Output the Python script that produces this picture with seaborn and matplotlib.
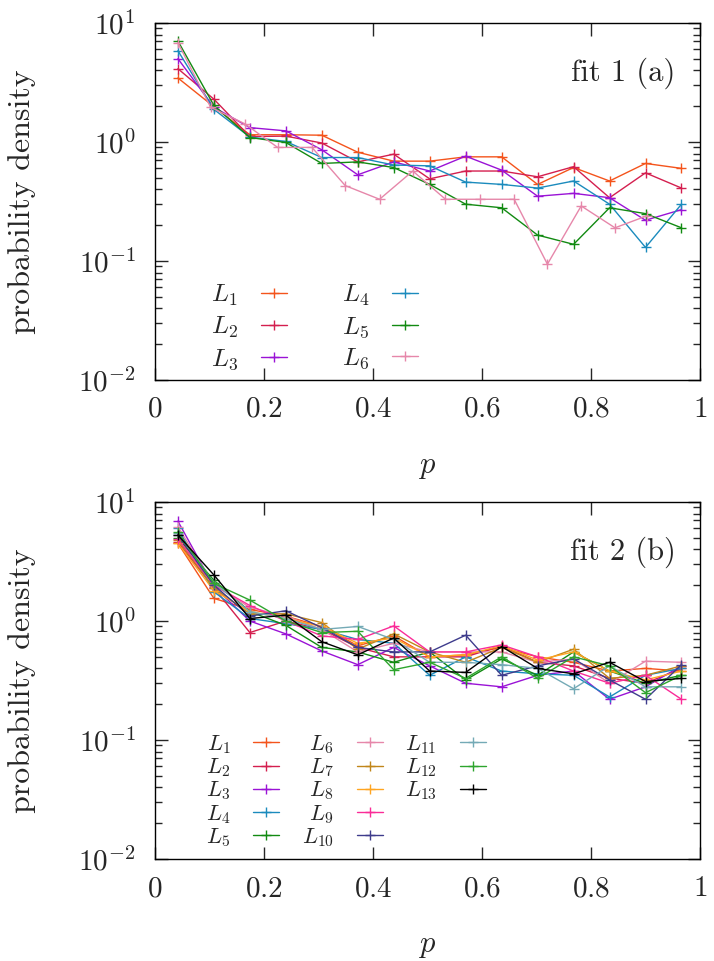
import numpy as np
import pandas as pd
import matplotlib
matplotlib.use('Agg')
import matplotlib.pyplot as plt
from matplotlib.lines import Line2D
from matplotlib.ticker import LogLocator, NullFormatter, FixedLocator, FixedFormatter
import seaborn as sns

#%%
# bin centres
p = [0.042, 0.108, 0.174, 0.240, 0.306, 0.372, 0.438, 0.504,
     0.570, 0.636, 0.702, 0.768, 0.834, 0.900, 0.966]
# fit 1 / L6 was binned a bit finer
p_L6 = [0.042, 0.102, 0.165, 0.225, 0.288, 0.349, 0.412, 0.473,
        0.533, 0.597, 0.659, 0.720, 0.782, 0.844, 0.903]

# fit 1 (a)
fit1_L1 = [3.45, 1.98, 1.15, 1.15, 1.14, 0.82, 0.69, 0.69, 0.75, 0.75, 0.44, 0.61, 0.47, 0.66, 0.60]
fit1_L2 = [4.13, 2.29, 1.11, 1.12, 0.98, 0.68, 0.79, 0.49, 0.57, 0.57, 0.51, 0.62, 0.34, 0.55, 0.41]
fit1_L3 = [5.01, 1.96, 1.32, 1.24, 0.86, 0.53, 0.68, 0.57, 0.76, 0.58, 0.35, 0.37, 0.34, 0.22, 0.27]
fit1_L4 = [5.85, 1.88, 1.10, 1.01, 0.74, 0.74, 0.64, 0.63, 0.46, 0.44, 0.41, 0.47, 0.30, 0.13, 0.30]
fit1_L5 = [7.06, 2.03, 1.09, 0.99, 0.66, 0.68, 0.61, 0.44, 0.30, 0.28, 0.165, 0.138, 0.28, 0.25, 0.19]
fit1_L6 = [6.83, 1.96, 1.42, 0.90, 0.90, 0.43, 0.33, 0.57, 0.33, 0.33, 0.33, 0.094, 0.29, 0.19, 0.24]

# fit 2 (b)
fit2_L1 = [4.5, 1.55, 1.25, 1.10, 0.90, 0.62, 0.75, 0.50, 0.52, 0.60, 0.50, 0.45, 0.38, 0.40, 0.38]
fit2_L2 = [4.6, 1.90, 0.80, 1.00, 0.85, 0.60, 0.50, 0.50, 0.50, 0.62, 0.45, 0.42, 0.33, 0.30, 0.40]
fit2_L3 = [6.9, 1.95, 1.00, 0.78, 0.56, 0.43, 0.60, 0.42, 0.30, 0.28, 0.35, 0.38, 0.22, 0.28, 0.42]
fit2_L4 = [6.0, 1.76, 1.05, 0.95, 0.85, 0.70, 0.65, 0.35, 0.50, 0.38, 0.36, 0.35, 0.23, 0.35, 0.40]
fit2_L5 = [5.0, 2.20, 1.20, 0.92, 0.60, 0.55, 0.45, 0.55, 0.32, 0.48, 0.35, 0.55, 0.38, 0.30, 0.35]
fit2_L6 = [6.2, 2.00, 1.30, 1.10, 0.85, 0.55, 0.65, 0.55, 0.55, 0.55, 0.45, 0.48, 0.30, 0.46, 0.45]
fit2_L7 = [4.8, 1.90, 1.15, 1.15, 0.97, 0.58, 0.78, 0.55, 0.45, 0.60, 0.45, 0.58, 0.33, 0.35, 0.42]
fit2_L8 = [4.5, 1.80, 1.20, 1.05, 0.90, 0.65, 0.72, 0.50, 0.52, 0.62, 0.47, 0.55, 0.38, 0.32, 0.38]
fit2_L9 = [4.9, 2.00, 1.35, 1.00, 0.75, 0.70, 0.91, 0.55, 0.55, 0.63, 0.50, 0.38, 0.30, 0.35, 0.22]
fit2_L10 = [5.3, 2.00, 1.10, 1.22, 0.88, 0.60, 0.55, 0.55, 0.76, 0.35, 0.42, 0.48, 0.32, 0.22, 0.43]
fit2_L11 = [5.5, 2.10, 1.20, 1.05, 0.85, 0.90, 0.70, 0.45, 0.45, 0.43, 0.40, 0.27, 0.42, 0.28, 0.28]
fit2_L12 = [5.6, 2.07, 1.50, 1.00, 0.80, 0.82, 0.39, 0.45, 0.33, 0.50, 0.33, 0.50, 0.42, 0.25, 0.35]
fit2_L13 = [5.28, 2.44, 1.05, 1.12, 0.67, 0.52, 0.72, 0.38, 0.37, 0.61, 0.40, 0.36, 0.45, 0.31, 0.33]

colors = ['#f4541c', '#d41f4f', '#9a13d6', '#1b8bbd', '#128a12', '#e687aa', '#c1861a',
          '#ffa521', '#fa2c98', '#3e3c8c', '#74aab6', '#2ea52e', '#000000']

#%%
fit1 = [fit1_L1, fit1_L2, fit1_L3, fit1_L4, fit1_L5, fit1_L6]
fit2 = [fit2_L1, fit2_L2, fit2_L3, fit2_L4, fit2_L5, fit2_L6, fit2_L7,
        fit2_L8, fit2_L9, fit2_L10, fit2_L11, fit2_L12, fit2_L13]

rows = []
for i, vals in enumerate(fit1):
    xs = p_L6 if i == 5 else p
    for x, v in zip(xs, vals):
        rows.append(['L%d' % (i + 1), x, v])
df1 = pd.DataFrame(rows, columns=['series', 'p', 'density'])

rows = []
for i, vals in enumerate(fit2):
    for x, v in zip(p, vals):
        rows.append(['L%d' % (i + 1), x, v])
df2 = pd.DataFrame(rows, columns=['series', 'p', 'density'])

#%%
sns.set_style('ticks')
plt.rcParams['font.family'] = ['cmr10', 'DejaVu Serif']
plt.rcParams['mathtext.fontset'] = 'cm'
plt.rcParams['axes.formatter.use_mathtext'] = True

fig = plt.figure(figsize=(7.14, 9.61), dpi=100)
ax1 = fig.add_axes([0.2171, 0.6046, 0.7633, 0.3715])
ax2 = fig.add_axes([0.2171, 0.1061, 0.7633, 0.3715])

def draw(ax, df, n, ncol, legend_anchor, fsize, labelspacing, textpad, colspacing, hlen, tag):
    sns.lineplot(data=df, x='p', y='density', hue='series', palette=colors[:n],
                 marker='+', markersize=7, linewidth=1, estimator=None, sort=False,
                 legend=False, ax=ax)
    for line in ax.lines:
        line.set_markeredgecolor(line.get_color())
        line.set_markeredgewidth(1)
    ax.set_yscale('log')
    ax.set_xlim(0, 1)
    ax.set_ylim(1e-2, 1e1)
    ax.xaxis.set_major_locator(FixedLocator([0, 0.2, 0.4, 0.6, 0.8, 1]))
    ax.xaxis.set_major_formatter(FixedFormatter(['$0$', '$0.2$', '$0.4$', '$0.6$', '$0.8$', '$1$']))
    ax.yaxis.set_major_locator(FixedLocator([1e-2, 1e-1, 1e0, 1e1]))
    ax.yaxis.set_major_formatter(FixedFormatter(['$10^{-2}$', '$10^{-1}$', '$10^{0}$', '$10^{1}$']))
    ax.yaxis.set_minor_locator(LogLocator(base=10, subs=np.arange(2, 10), numticks=20))
    ax.yaxis.set_minor_formatter(NullFormatter())
    ax.tick_params(which='both', direction='in', top=True, right=True, width=1, labelsize=21)
    ax.tick_params(which='major', length=9)
    ax.tick_params(which='minor', length=5)
    ax.tick_params(axis='x', pad=12)
    ax.tick_params(axis='y', pad=14)
    for s in ax.spines.values():
        s.set_linewidth(1)
        s.set_color('black')
    ax.set_xlabel('$p$', fontsize=22, labelpad=22)
    ax.set_ylabel('probability density', fontsize=23, labelpad=30)
    ax.text(0.955, 0.86, tag, transform=ax.transAxes, ha='right', va='center', fontsize=22)

    handles = list(ax.lines)
    labels = ['$L_{%d}$' % (i + 1) for i in range(n)]
    # pad so the columns fill 5/5/3 like the original
    while ncol == 3 and len(handles) < 15:
        handles.append(Line2D([], [], linestyle='none'))
        labels.append(' ')
    ax.legend(handles=handles, labels=labels,
              ncol=ncol, markerfirst=False, frameon=False, fontsize=fsize, numpoints=1,
              loc='upper left', bbox_to_anchor=legend_anchor, borderpad=0,
              handlelength=hlen, handletextpad=textpad, columnspacing=colspacing,
              labelspacing=labelspacing)

draw(ax1, df1, 6, 2, (0.079, 0.308), 18, 0.29, 0.92, 2.2, 1.05, 'fit 1 (a)')
draw(ax2, df2, 13, 3, (0.073, 0.384), 16, 0.02, 1.04, 1.0, 1.17, 'fit 2 (b)')

plt.savefig('out.png', dpi=100)
